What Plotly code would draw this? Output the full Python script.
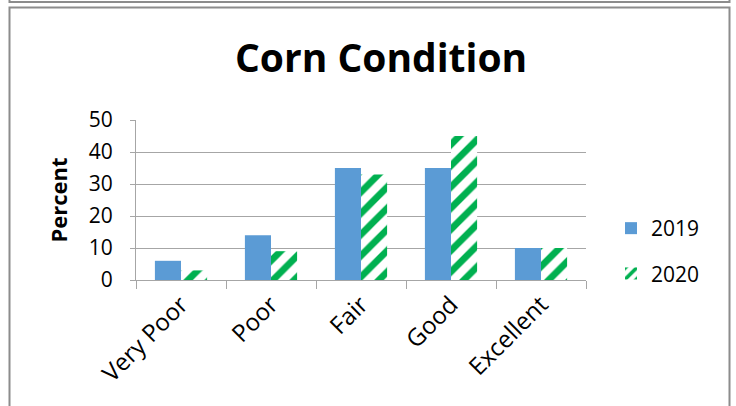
import plotly.graph_objects as go

categories = ["Very Poor", "Poor", "Fair", "Good", "Excellent"]
values_2019 = [6, 14, 35, 35, 10]
values_2020 = [3, 9, 33, 45, 10]
y_ticks = [0, 10, 20, 30, 40, 50]

FONT = "Open Sans"
L, R, T, B = 136, 150, 120, 126
W, H = 736, 406
PW = W - L - R
PH = H - T - B


def xp(px):
    return (px - L) / PW


def yp(py):
    return (H - B - py) / PH


fig = go.Figure()
fig.add_trace(go.Bar(
    x=categories, y=values_2019, name="2019",
    marker=dict(color="#5B9BD5", line=dict(width=0)),
    legendgroup="a",
))
fig.add_trace(go.Bar(
    x=categories, y=values_2020, name="2020",
    marker=dict(color="white", line=dict(width=0),
                pattern=dict(shape="/", fgcolor="#00B050", bgcolor="white",
                             size=15, solidity=0.45, fillmode="replace")),
    legendgroup="b",
))

shapes = [
    dict(type="rect", xref="paper", yref="paper",
         x0=xp(9.5), x1=xp(729.5), y0=yp(7.5), y1=yp(420),
         line=dict(color="#8C8C8C", width=2), fillcolor="rgba(0,0,0,0)", layer="below"),
    dict(type="rect", xref="paper", yref="paper",
         x0=xp(9.5), x1=xp(729.5), y0=yp(2), y1=yp(-20),
         line=dict(color="#8C8C8C", width=2), fillcolor="rgba(0,0,0,0)", layer="below"),
]

fig.update_layout(
    width=W, height=H,
    margin=dict(l=L, r=R, t=T, b=B, autoexpand=False),
    paper_bgcolor="white", plot_bgcolor="white",
    barmode="group", bargap=0.42, bargroupgap=0,
    font=dict(family=FONT, color="black"),
    title=dict(text="<b>Corn Condition</b>", x=xp(369), xanchor="center",
               y=1 - 58 / H, yanchor="middle",
               font=dict(size=39, family=FONT, color="black")),
    showlegend=True,
    legend=dict(x=xp(611), xanchor="left", y=yp(251), yanchor="middle",
                font=dict(size=21, family=FONT), tracegroupgap=15,
                itemwidth=30, bgcolor="rgba(0,0,0,0)"),
    shapes=shapes,
)

fig.update_yaxes(
    range=[0, 50], tickvals=y_ticks, ticktext=[str(v) for v in y_ticks],
    showgrid=True, gridcolor="#A6A6A6", gridwidth=1,
    showline=True, linecolor="#A6A6A6", linewidth=1,
    ticks="outside", ticklen=5, tickcolor="#A6A6A6", ticklabelstandoff=13,
    tickfont=dict(size=21, family=FONT), zeroline=False,
    title=dict(text="<b>Percent</b>", font=dict(size=22, family=FONT), standoff=15),
)
fig.update_xaxes(
    showline=True, linecolor="#A6A6A6", linewidth=1,
    ticks="outside", ticklen=8, tickcolor="#A6A6A6", tickson="boundaries",
    tickangle=-45, tickfont=dict(size=24, family=FONT),
)

fig.write_html("out.html", config={"displayModeBar": False},
               post_script="document.body.style.margin='0';")
